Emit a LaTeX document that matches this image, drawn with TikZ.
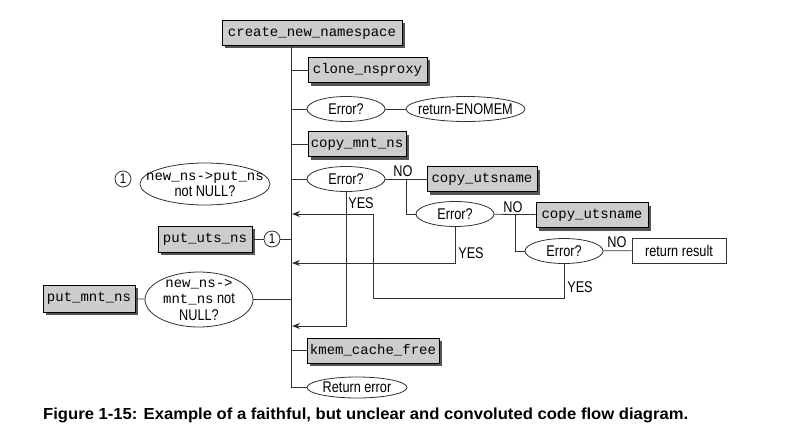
\documentclass[tikz,border=0pt]{standalone}
\usepackage{fontspec}
\setmainfont{Liberation Sans}
\setmonofont{Liberation Mono}
\newfontfamily\condsans[FakeStretch=0.82]{Liberation Sans}
\newfontfamily\capsans[FakeStretch=1.04]{Liberation Sans}
\usetikzlibrary{shapes.geometric,arrows.meta,shadows}
\definecolor{flowLine}{RGB}{50,50,50}
\definecolor{flowBox}{RGB}{205,205,205}
\definecolor{flowShadow}{RGB}{85,85,85}
\tikzset{
  codebox/.style={
    rectangle, draw=black, fill=flowBox, line width=0.8pt,
    minimum height=25pt, inner sep=0pt,
    font=\ttfamily\fontsize{14}{16}\selectfont,
    drop shadow={shadow xshift=3pt, shadow yshift=-3pt, fill=flowShadow, opacity=1}
  },
  lbl/.style={font=\condsans\fontsize{15.5}{16.5}\selectfont, inner sep=0pt},
  oval/.style={
    ellipse, draw=flowLine, fill=white, line width=0.8pt,
    inner sep=0pt, minimum height=25pt,
    label={[lbl, align=center]center:#1}
  },
  plainbox/.style={
    rectangle, draw=flowLine, fill=white, line width=0.8pt,
    minimum height=25pt, inner sep=0pt, font=\condsans\fontsize{15.5}{16.5}\selectfont
  },
  numcirc/.style={
    circle, draw=flowLine, fill=white, line width=0.8pt,
    minimum size=16pt, inner sep=0pt, font=\condsans\fontsize{14}{16}\selectfont
  },
  flow/.style={draw=flowLine, line width=0.8pt},
  myarr/.style={flow, -{Stealth[length=8pt,width=6pt]}},
}

\begin{document}
\begin{tikzpicture}[x=1pt, y=-1pt]
  \useasboundingbox (0,0) rectangle (800,444);

  % Main column
  \node[codebox, minimum width=180] (cnn) at (312,33) {create\_new\_namespace};
  \coordinate (top) at (291,46);
  \node[codebox, minimum width=119] (clone) at (367.5,70) {clone\_nsproxy};
  \node[oval=Error?, minimum width=78] (err1) at (346,109) {};
  \node[oval=return-ENOMEM, minimum width=119] (enomem) at (465.5,109) {};
  \node[codebox, minimum width=98] (copymnt) at (357,144) {copy\_mnt\_ns};
  \node[oval=Error?, minimum width=78] (err2) at (346,179) {};
  \node[codebox, minimum width=132] (kmem) at (373,350.5) {kmem\_cache\_free};
  \node[oval=Return error, minimum width=100, minimum height=21] (reterr) at (357,387.5) {};

  % Right cascade
  \node[codebox, minimum width=110] (utsA) at (482,179) {copy\_utsname};
  \node[oval=Error?, minimum width=78] (err3) at (455,214) {};
  \node[codebox, minimum width=112] (utsB) at (592,215) {copy\_utsname};
  \node[oval=Error?, minimum width=78] (err4) at (564,251) {};
  \node[plainbox, minimum width=94] (result) at (679,250.5) {return result};
  \coordinate (n1) at (406,179);
  \coordinate (n2) at (515,214);

  % Left side
  \node[numcirc] (circ1) at (123,179) {1};
  \node[oval={{\ttfamily\fontsize{14}{15}\selectfont new\_ns->put\_ns}\\not NULL?},
        minimum width=130, minimum height=42] (putell) at (205,184) {};
  \node[codebox, minimum width=94, minimum height=26] (utsput) at (205,239) {put\_uts\_ns};
  \node[numcirc] (circ2) at (272,239) {1};
  \node[codebox, minimum width=92, minimum height=27] (mntput) at (89,298.5) {put\_mnt\_ns};
  \node[oval={{\ttfamily\fontsize{14}{15}\selectfont new\_ns->}\\{\ttfamily\fontsize{14}{15}\selectfont mnt\_ns} not\\NULL?},
        minimum width=108, minimum height=55] (mntell) at (199,299.5) {};

  % Return points on the trunk
  \coordinate (y1) at (292,326);
  \coordinate (y2) at (292,263);
  \coordinate (y3) at (292,214);
  \coordinate (bend) at (373,298);

  % Trunk and branches
  \draw[flow] (top) |- (reterr.west);
  \foreach \n in {clone,err1,copymnt,err2,kmem}
    \draw[flow] (\n.west -| top) -- (\n.west);
  \draw[flow] (err1) -- (enomem);
  \draw[flow] (err2) -- (utsA);
  \draw[flow] (n1) |- (err3.west);
  \draw[flow] (err3) -- (utsB);
  \draw[flow] (n2) |- (err4.west);
  \draw[flow] (err4) -- (result);
  \draw[flow] (utsput) -- (circ2);
  \draw[flow] (circ2) -- (circ2.east -| top);
  \draw[flow] (mntput) -- (mntell);
  \draw[flow] (mntell.east) -- (mntell.east -| top);

  % YES returns
  \draw[myarr] (err2.south) |- (y1);
  \draw[myarr] (err3.south) |- (y2);
  \draw[myarr] (err4.south) |- (bend) |- (y3);

  % Labels
  \node[lbl, anchor=base] (no1) at (403,176) {NO};
  \node[lbl, anchor=base] (no2) at (513,212) {NO};
  \node[lbl, anchor=base] (no3) at (617,247) {NO};
  \node[lbl, anchor=base] (yes1) at (361,208) {YES};
  \node[lbl, anchor=base] (yes2) at (471,258) {YES};
  \node[lbl, anchor=base] (yes3) at (580,292) {YES};

  % Caption
  \node[anchor=base west, inner sep=0pt, font=\capsans\bfseries\fontsize{16}{18}\selectfont]
    (caption) at (43,419)
    {Figure 1-15: Example of a faithful, but unclear and convoluted code flow diagram.};
\end{tikzpicture}
\end{document}
